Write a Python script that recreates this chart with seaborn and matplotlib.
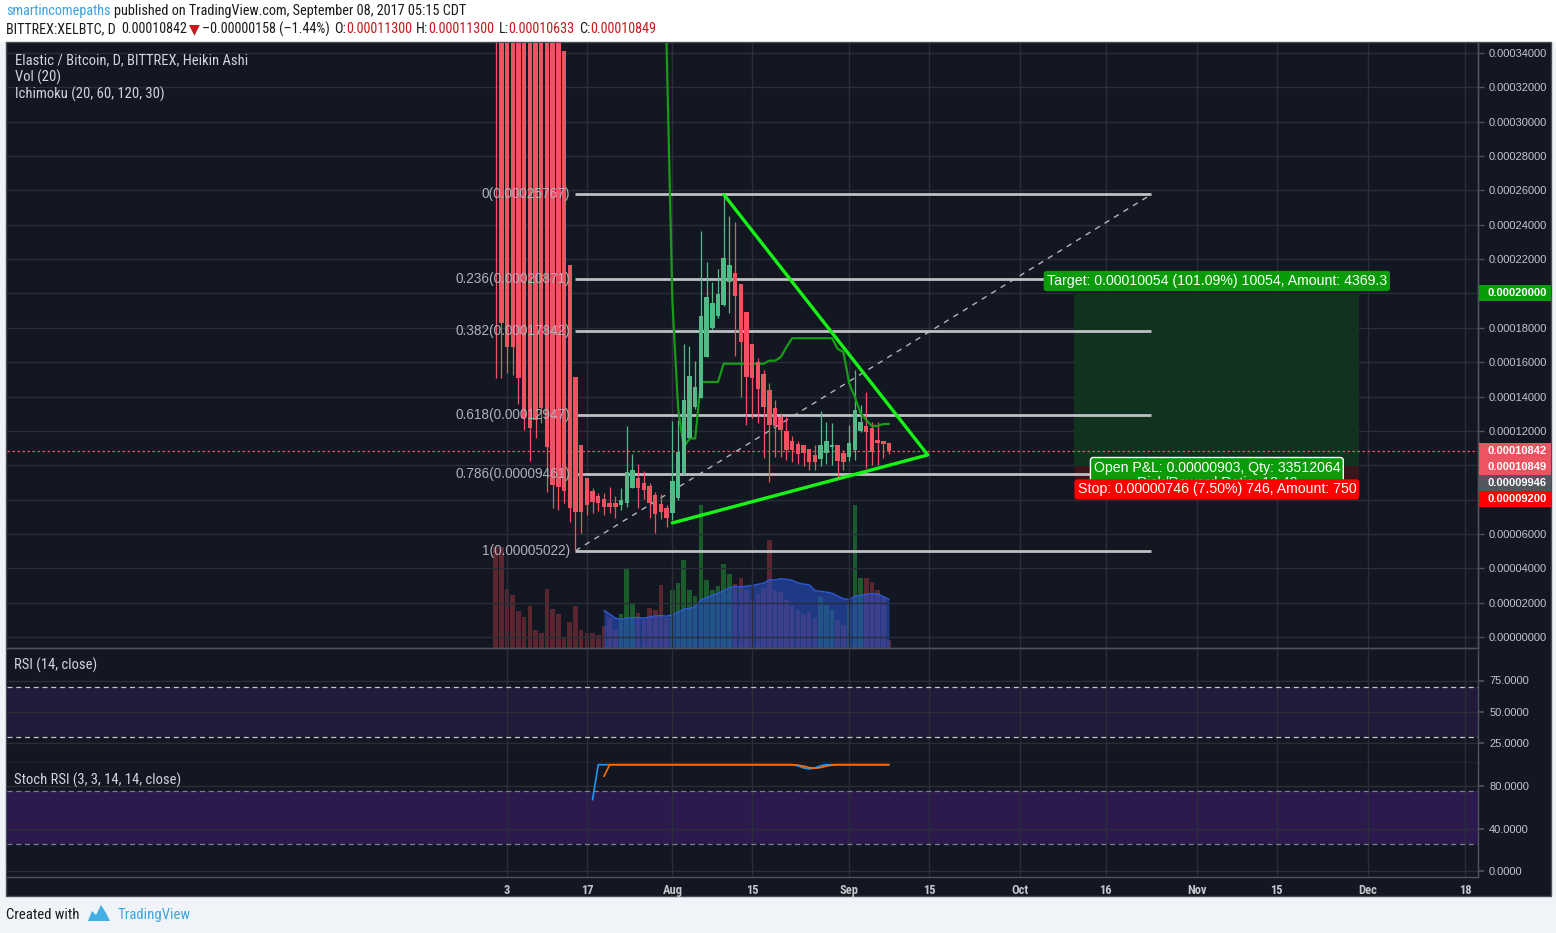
import numpy as np
import pandas as pd
import seaborn as sns
import matplotlib
matplotlib.use("Agg")
import matplotlib.pyplot as plt
import matplotlib.dates as mdates
from matplotlib import font_manager
from matplotlib.patches import Rectangle, Polygon
from matplotlib.ticker import FuncFormatter
from matplotlib.transforms import IdentityTransform

# ---------------- data (prices in satoshi = 1e-8 BTC) ----------------
dates = pd.date_range("2017-07-01", "2017-09-08", freq="D")

ha_open = [300000, 280000, 260000, 240000, 220000, 200000, 180000, 160000, 140000, 120000,
           100000, 59500, 34117, 21660, 15140, 11180, 9260, 8500, 8210, 8030,
           7800, 7800, 7690, 7800, 8680, 9260, 8970, 8790, 8270, 7740,
           7510, 7220, 8090, 9550, 11590, 13390, 13920, 16300, 17990, 18690,
           19330, 20670, 21190, 20550, 18920, 17060, 16010, 15310, 14380, 13330,
           12810, 11990, 11410, 11240, 11180, 10950, 10600, 10360, 10710, 11060,
           11180, 10710, 10480, 10890, 11990, 12280, 12170, 11470, 11410, 11300]
ha_high = [300000, 280000, 260000, 240000, 220000, 200000, 180000, 160000, 140000, 120000,
           100000, 63500, 34117, 21660, 15140, 11180, 9260, 8680, 8380, 8380,
           8730, 8210, 8680, 12280, 10650, 10070, 9660, 8970, 8440, 8330,
           7690, 12580, 12630, 17060, 16940, 16070, 23640, 21830, 20670, 21430,
           25767, 24510, 24160, 20550, 18920, 17060, 16240, 15540, 14790, 13800,
           13040, 12810, 11700, 11410, 11180, 10950, 11180, 13160, 12520, 12460,
           11180, 10890, 12340, 15550, 13510, 14260, 12520, 12520, 11410, 11300]
ha_low = [15080, 15080, 15370, 15250, 13570, 12050, 10250, 11590, 12460, 8440,
          7510, 7390, 7800, 6700, 5022, 6055, 7100, 7220, 7340, 7100,
          7220, 6930, 7390, 7570, 8680, 7510, 8030, 6930, 6055, 6870,
          6404, 6810, 7980, 9430, 11470, 13270, 13920, 16300, 17870, 18580,
          19270, 18860, 16360, 13970, 12340, 12750, 12460, 10420, 9024, 10480,
          10480, 10300, 10190, 10070, 9950, 9720, 9720, 9950, 10070, 10010,
          9257, 9720, 10250, 10300, 11930, 9840, 10010, 10010, 10420, 10633]
ha_close = [200000, 18280, 16880, 16880, 15080, 12750, 12170, 12630, 13330, 11060,
            8850, 8730, 8500, 7510, 7280, 7280, 7690, 7860, 7800, 7570,
            7570, 7570, 7980, 9610, 9720, 8680, 8560, 7800, 7160, 7280,
            6930, 9080, 10770, 13800, 15200, 14560, 18690, 19800, 19450, 19970,
            22070, 21660, 19850, 17180, 15140, 15080, 14440, 13390, 12340, 12280,
            12050, 10890, 10890, 10650, 10710, 10190, 10190, 11180, 11410, 11180,
            10250, 10190, 11300, 13220, 12520, 11930, 10770, 11300, 11240, 10849]
volume = [101, 101, 59, 53, 37, 31, 42, 18, 15, 59,
          39, 34, 11, 26, 42, 18, 15, 15, 13, 22,
          30, 18, 34, 80, 45, 35, 28, 40, 38, 63,
          30, 58, 65, 88, 58, 52, 143, 68, 58, 62,
          84, 74, 64, 70, 58, 48, 54, 60, 108, 58,
          56, 48, 42, 38, 34, 36, 30, 51, 43, 38,
          28, 23, 43, 143, 70, 70, 66, 58, 50, 8]
nan = np.nan
stoch_k = [nan, nan, nan, nan, nan, nan, nan, nan, nan, nan,
           nan, nan, nan, nan, nan, nan, nan, 67, 100, 100,
           100, 100, 100, 100, 100, 100, 100, 100, 100, 100,
           100, 100, 100, 100, 100, 100, 100, 100, 100, 100,
           100, 100, 100, 100, 100, 100, 100, 100, 100, 100,
           100, 100, 100, 99, 97, 96, 97, 99, 100, 100,
           100, 100, 100, 100, 100, 100, 100, 100, 100, 100]
last_price = 10842

fib_ratios = [0, 0.236, 0.382, 0.618, 0.786, 1]
fib_high, fib_low = 25767, 5022
fib_dates = ["2017-07-15 00:00", "2017-10-24 00:00"]

tri_dates = ["2017-08-10 00:00", "2017-09-14 19:00", "2017-08-01 00:00"]
tri_prices = [25767, 10600, 6640]

pos_dates = ["2017-10-10 12:00", "2017-11-29 12:00"]
pos_entry, pos_target, pos_stop = 9946, 20000, 9200
target_text = "Target: 0.00010054 (101.09%) 10054, Amount: 4369.3"
pnl_text = "Open P&L: 0.00000903, Qty: 33512064\nRisk/Reward Ratio: 13.48"
stop_text = "Stop: 0.00000746 (7.50%) 746, Amount: 750"

axis_label_prices = [20000, 10842, 10849, 9946, 9200]
axis_label_colors = ["#089c08", "#ee5362", "#ee5362", "#54575f", "#ff0000"]

tick_dates = ["2017-07-03", "2017-07-17", "2017-08-01", "2017-08-15", "2017-09-01", "2017-09-15",
              "2017-10-01", "2017-10-16", "2017-11-01", "2017-11-15", "2017-12-01", "2017-12-18"]
tick_labels = ["3", "17", "Aug", "15", "Sep", "15", "Oct", "16", "Nov", "15", "Dec", "18"]

# ---------------- style ----------------
BG = "#131722"
GRID = "#2a2e39"
TXT = "#b2b5be"
RED = "#ef5361"
GREEN = "#53b987"
DARK = "#1a1a1a"

available = {f.name for f in font_manager.fontManager.ttflist}


def pick(*names):
    for n in names:
        if n in available:
            return n
    return "DejaVu Sans"


NARROW = pick("Liberation Sans Narrow", "Roboto Condensed", "Open Sans Condensed", "Roboto")
SANS = pick("Liberation Sans", "Arial", "DejaVu Sans")

sns.set_theme(style="dark")
plt.rcParams["font.family"] = [SANS, "DejaVu Sans"]

W, H = 1556, 933
fig = plt.figure(figsize=(W / 100, H / 100), dpi=100)
fig.patch.set_facecolor("#f0f3f7")
fig.add_artist(Rectangle((0, 1 - 42 / H), 1, 42 / H, transform=fig.transFigure,
                         facecolor="white", lw=0, zorder=-10))
fig.add_artist(Rectangle((6 / W, 1 - 896 / H), 1545 / W, 854 / H, transform=fig.transFigure,
                         facecolor=BG, edgecolor="#4a4e59", lw=1, zorder=-9))

ax = fig.add_axes([7 / W, 1 - 648 / H, 1471 / W, 605 / H])
ax_vol = ax.twinx()
ax.set_zorder(ax_vol.get_zorder() + 1)
ax.patch.set_visible(False)
ax_vol.set_facecolor(BG)
ax_rsi = fig.add_axes([7 / W, 1 - 763 / H, 1471 / W, 113 / H], sharex=ax)
ax_st = fig.add_axes([7 / W, 1 - 877 / H, 1471 / W, 114 / H], sharex=ax)

xd = mdates.date2num(dates)
x_ref = mdates.date2num(pd.Timestamp("2017-07-03"))
ax.set_xlim(x_ref - 87.7, x_ref + 170.3)
tick_x = mdates.date2num(pd.to_datetime(tick_dates))

for a in (ax, ax_rsi, ax_st, ax_vol):
    for s in ("top", "left"):
        a.spines[s].set_visible(False)
    for s in ("right", "bottom"):
        a.spines[s].set_color("#50535e")
        a.spines[s].set_linewidth(1)
for a in (ax_rsi, ax_st):
    a.set_facecolor(BG)

# ---------------- volume ----------------
o, h, l, c = (np.array(v, float) for v in (ha_open, ha_high, ha_low, ha_close))
vol = np.array(volume, float)
up = c >= o
ax_vol.bar(xd, vol, width=0.8, color=np.where(up, "#1b5a2b", "#5a2630"), lw=0)
vol_ma = pd.Series(vol).rolling(20).mean().to_numpy()
ax_vol.fill_between(xd, 0, vol_ma, color="#2850c8", alpha=0.6, lw=0)
ax_vol.plot(xd, vol_ma, color="#2e5ad8", lw=1)
ax_vol.set_ylim(0, 605)
ax_vol.set_yticks([])
ax_vol.tick_params(length=0)

# ---------------- price pane ----------------
ax.set_ylim(-640, 34583)
ax.set_yticks(np.arange(0, 34001, 2000))
ax.yaxis.set_major_formatter(FuncFormatter(lambda v, p: f"{v * 1e-8:.8f}"))
ax.yaxis.tick_right()
ax.set_xticks(tick_x)
ax.grid(True, color=GRID, lw=1)
ax.tick_params(axis="y", labelcolor="#c3c6cd", color="#50535e", length=4, width=1, pad=4, labelsize=8)
ax.tick_params(axis="x", length=0, labelbottom=False)

# current price
ax.axhline(last_price, color=RED, lw=0.9, ls=(0, (2, 2)), zorder=2)

# candles
col = np.where(up, GREEN, RED)
ax.vlines(xd, l, h, colors=col, lw=0.9, zorder=4)
ax.bar(xd, c - o, bottom=o, width=0.78, color=col, lw=0, zorder=5)

# ichimoku tenkan (20)
tenkan = ((pd.Series(h).rolling(20).max() + pd.Series(l).rolling(20).min()) / 2).to_numpy()
sns.lineplot(x=xd, y=tenkan, ax=ax, color="#169c16", lw=1.6, zorder=4)

# fibonacci retracement
fx = mdates.date2num(pd.to_datetime(fib_dates))
ax.plot(fx, [fib_low, fib_high], color="#b2b5be", lw=1, ls=(0, (4, 4)), zorder=3)
for r in fib_ratios:
    lvl = fib_high - r * (fib_high - fib_low)
    ax.hlines(lvl, fx[0], fx[1], color="#bfc0c4", lw=2, zorder=3)
    ax.annotate(f"{r:g}({lvl * 1e-8:.8f})", xy=(fx[0], lvl), xytext=(-4, 0),
                textcoords="offset points", ha="right", va="center",
                color="#aeb1ba", fontsize=9.8, zorder=6)

# triangle
tx = mdates.date2num(pd.to_datetime(tri_dates))
ax.plot(tx, tri_prices, color="#16f516", lw=2.4, zorder=6, solid_capstyle="round")

# long position tool
px0, px1 = mdates.date2num(pd.to_datetime(pos_dates))
ax.add_patch(Rectangle((px0, pos_entry), px1 - px0, pos_target - pos_entry,
                       facecolor="#10321f", lw=0, zorder=1))
ax.add_patch(Rectangle((px0, pos_stop), px1 - px0, pos_entry - pos_stop,
                       facecolor="#3a151c", lw=0, zorder=1))
pmid = (px0 + px1) / 2
ax.annotate(target_text, xy=(pmid, pos_target), xytext=(0, 9), textcoords="offset points",
            ha="center", va="center", color="white", fontsize=10.2, zorder=7,
            bbox=dict(boxstyle="round,pad=0.22,rounding_size=0.2", fc="#089c08", ec="none"))
ax.annotate(pnl_text, xy=(pmid, pos_entry), xytext=(0, 4), textcoords="offset points",
            ha="center", va="top", color="white", fontsize=10.2, zorder=7, linespacing=1.1,
            bbox=dict(boxstyle="round,pad=0.22,rounding_size=0.2", fc="#089c08", ec="white", lw=1))
ax.annotate(stop_text, xy=(pmid, pos_stop), xytext=(0, -7.5), textcoords="offset points",
            ha="center", va="center", color="white", fontsize=10.2, zorder=8,
            bbox=dict(boxstyle="round,pad=0.22,rounding_size=0.2", fc="#ff0000", ec="none"))

# ---------------- RSI pane ----------------
ax_rsi.set_ylim(9, 99.4)
ax_rsi.set_yticks([25, 50, 75])
ax_rsi.yaxis.set_major_formatter(FuncFormatter(lambda v, p: f"{v:.4f}"))
ax_rsi.yaxis.tick_right()
ax_rsi.grid(True, color=GRID, lw=1)
ax_rsi.axhspan(30, 70, color="#221a3a", lw=0, zorder=0)
for v in (30, 70):
    ax_rsi.axhline(v, color="#c4c6cc", lw=0.9, ls=(0, (4, 3)))
ax_rsi.tick_params(axis="y", labelcolor="#c3c6cd", color="#50535e", length=4, pad=4, labelsize=8)
ax_rsi.tick_params(axis="x", length=0, labelbottom=False)

# ---------------- Stoch RSI pane ----------------
stoch_d = pd.Series(stoch_k).rolling(3).mean().to_numpy()
ax_st.set_ylim(-5.6, 101.6)
ax_st.set_yticks([0, 40, 80])
ax_st.yaxis.set_major_formatter(FuncFormatter(lambda v, p: f"{v:.4f}"))
ax_st.yaxis.tick_right()
ax_st.grid(True, color=GRID, lw=1)
ax_st.axhspan(25, 75, color="#2c1a4e", lw=0, zorder=0)
for v in (25, 75):
    ax_st.axhline(v, color="#7c7f8a", lw=0.9, ls=(0, (4, 3)))
sns.lineplot(x=xd, y=np.array(stoch_k, float), ax=ax_st, color="#2196f3", lw=1.2)
sns.lineplot(x=xd, y=stoch_d, ax=ax_st, color="#ff6d00", lw=1.2)
ax_st.set_xticks(tick_x)
ax_st.set_xticklabels(tick_labels)
ax_st.tick_params(axis="y", labelcolor="#c3c6cd", color="#50535e", length=4, pad=4, labelsize=8)
ax_st.tick_params(axis="x", labelcolor="#c3c6cd", color="#50535e", length=3, pad=2, labelsize=9)
for t in ax_st.get_xticklabels():
    t.set_family(NARROW)
    t.set_weight("bold")
for a in (ax, ax_rsi, ax_st, ax_vol):
    a.set_xlabel("")
    a.set_ylabel("")
ax.set_xlim(x_ref - 87.7, x_ref + 170.3)

# ---------------- right axis price labels ----------------
prev = -1e9
for p, colr in zip(axis_label_prices, axis_label_colors):
    yd = H - ax.transData.transform((ax.get_xlim()[0], p))[1]
    yd = max(yd, prev + 16)
    prev = yd
    fig.add_artist(Rectangle((1479, H - yd - 8), 72, 16, transform=IdentityTransform(),
                             facecolor=colr, lw=0, zorder=5))
    fig.add_artist(plt.Text(1487, H - yd, f"{p * 1e-8:.8f}", transform=IdentityTransform(),
                            color="white", fontsize=8, weight="bold", va="center", ha="left",
                            zorder=6))

# ---------------- texts ----------------
renderer = fig.canvas.get_renderer()


def text_run(x, y, parts, size, weight="normal"):
    for s, colr, gap in parts:
        x += gap
        t = fig.text(x / W, 1 - y / H, s, color=colr, fontsize=size, weight=weight,
                     family=[NARROW, "DejaVu Sans"], va="center", ha="left")
        x += t.get_window_extent(renderer).width


VRED = "#c8191e"
text_run(6, 11, [("smartincomepaths", "#3ba2e0", 0),
                 ("published on TradingView.com, September 08, 2017 05:15 CDT", DARK, 3)], 10.3)
text_run(6, 29, [("BITTREX:XELBTC, D", DARK, 0), ("0.00010842", DARK, 6), ("\u25bc", VRED, 1),
                 ("\u20130.00000158 (\u20131.44%)", DARK, 3), ("O:", DARK, 4), ("0.00011300", VRED, 0),
                 ("H:", DARK, 4), ("0.00011300", VRED, 0), ("L:", DARK, 4), ("0.00010633", VRED, 0),
                 ("C:", DARK, 4), ("0.00010849", VRED, 0)], 10.2)

LEG = "#d1d4dc"
for s, (x, y) in [("Elastic / Bitcoin, D, BITTREX, Heikin Ashi", (15, 60)), ("Vol (20)", (15, 77)),
                  ("Ichimoku (20, 60, 120, 30)", (15, 94)), ("RSI (14, close)", (14, 665)),
                  ("Stoch RSI (3, 3, 14, 14, close)", (14, 780))]:
    fig.text(x / W, 1 - y / H, s, color=LEG, fontsize=10.5, family=NARROW, va="center", ha="left")

text_run(6, 915, [("Created with", DARK, 0)], 10.6)
logo = [(88, 921), (92, 911), (96, 915), (101, 905), (106, 913), (110, 921)]
fig.add_artist(Polygon([(x, H - y) for x, y in logo], closed=True, transform=IdentityTransform(),
                       facecolor="#45aee4", lw=0))
text_run(118, 915, [("TradingView", "#3ba7e0", 0)], 10.6)

fig.savefig("out.png", dpi=100, facecolor=fig.get_facecolor())
